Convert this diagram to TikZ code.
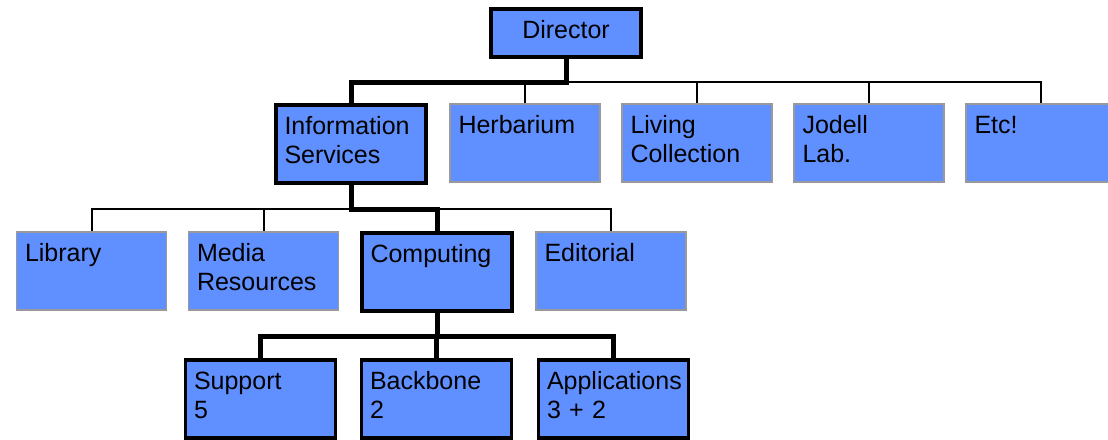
\documentclass[tikz,border=0pt]{standalone}
\usepackage{fontspec}
\setmainfont{Liberation Sans}
\definecolor{unitblue}{RGB}{96,144,255}
\tikzset{
  unit/.style={draw=gray!80, line width=1.5pt, fill=unitblue,
    text width=133pt, align=left, inner xsep=8.5pt, inner ysep=11pt,
    text height=18pt, text depth=38pt, font=\fontsize{25}{29}\selectfont},
  mainunit/.style={unit, draw=black, line width=3.5pt},
  thinlink/.style={line width=2pt},
  thicklink/.style={line width=5pt},
}

\begin{document}
\begin{tikzpicture}[x=1pt,y=-1pt]
  \useasboundingbox (0,0) rectangle (1108,439);

  \coordinate (bus1) at (0,82);
  \coordinate (bus2) at (0,209);
  \coordinate (bus3) at (0,336);

  % top
  \node[mainunit, align=center, text depth=8pt] (dir) at (566,33) {Director};

  % departments
  \node[mainunit] (info) at (351,144) {Information\\Services};
  \foreach \x/\name/\txt in {525/herb/Herbarium, 697/living/{Living\\Collection},
      869/jodell/{Jodell\\Lab.}, 1041/etc/Etc!}
    \node[unit] (\name) at (\x,143) {\txt};

  % information services
  \node[unit] (library) at (91.5,271) {Library};
  \node[unit] (media) at (263.5,271) {Media\\Resources};
  \node[mainunit] (comp) at (437,272) {Computing};
  \node[unit] (edit) at (611,271) {Editorial};

  % computing
  \node[mainunit] (support) at (260.5,399) {Support\\5};
  \node[mainunit] (backbone) at (436.5,399) {Backbone\\2};
  \node[mainunit] (apps) at (613.5,399) {Applications\\3 + 2};

  \foreach \n in {herb,living,jodell,etc}
    \draw[thinlink] (dir.south) |- (bus1 -| \n.north) -- (\n.north);
  \foreach \n in {library,media,edit}
    \draw[thinlink] (info.south) |- (bus2 -| \n.north) -- (\n.north);

  \draw[thicklink] (dir.south) |- (bus1 -| info.north) -- (info.north);
  \draw[thicklink] (info.south) |- (bus2 -| comp.north) -- (comp.north);
  \foreach \n in {support,backbone,apps}
    \draw[thicklink] (comp.south) |- (bus3 -| \n.north) -- (\n.north);
\end{tikzpicture}
\end{document}
